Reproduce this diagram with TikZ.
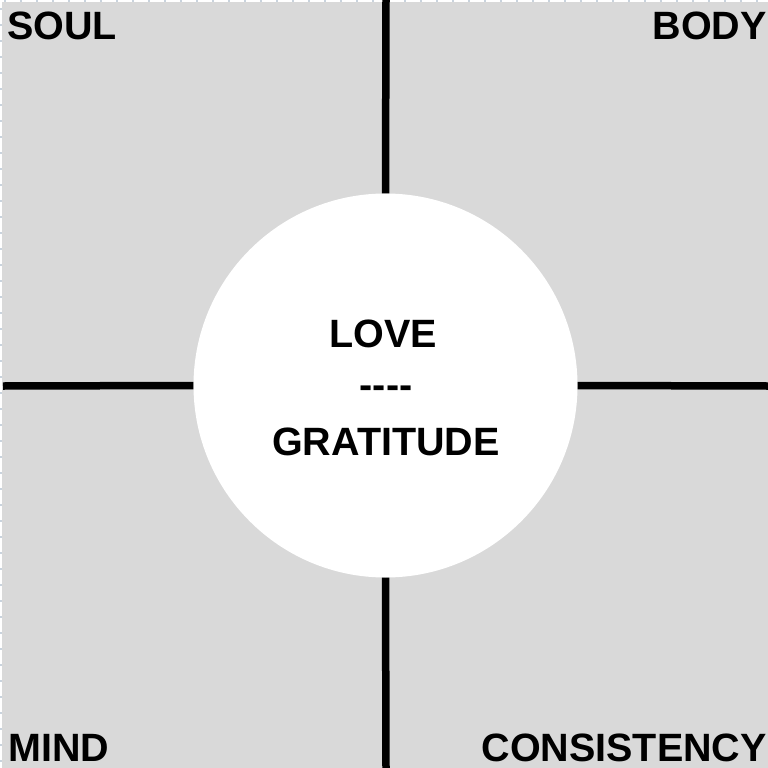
\documentclass[tikz,border=0pt]{standalone}
\usepackage{fontspec}
\setmainfont{Liberation Sans}
\definecolor{panel}{HTML}{D9D9D9}
\definecolor{edge}{HTML}{C9D3DD}
\begin{document}
\begin{tikzpicture}[x=1pt,y=-1pt,
  bar/.style={line width=7.5pt,black},
  lbl/.style={font=\fontsize{39.5}{47}\bfseries\selectfont,inner sep=0pt}]
\useasboundingbox (0,0) rectangle (768,768);
\fill[white] (0,0) rectangle (768,768);
\fill[panel] (1.5,2.5) rectangle (768,768);
\draw[edge,line width=2pt,dash pattern=on 2pt off 14pt] (4,1) -- (768,1);
\draw[edge,line width=1.5pt,dash pattern=on 2pt off 14pt] (0.75,8) -- (0.75,768);
\node[circle,fill=white,minimum size=384pt,inner sep=0pt] (c) at (385.5,385.5) {};
\coordinate (t) at (386,0);
\coordinate (b) at (386,768);
\coordinate (l) at (3,386);
\coordinate (r) at (768,386);
\draw[bar] (t) -- (c.north);
\draw[bar] (c.south) -- (b);
\draw[bar] (l) -- (c.west);
\draw[bar] (c.east) -- (r);
\node[lbl,anchor=base] (love) at (383,347) {LOVE};
\node[lbl,anchor=base] (dash) at (386,398) {-{}-{}-{}-};
\node[lbl,anchor=base] (grat) at (386,455) {GRATITUDE};
\node[lbl,anchor=base west] (soul) at (7,40) {SOUL};
\node[lbl,anchor=base east] (body) at (767,40) {BODY};
\node[lbl,anchor=base west] (mind) at (8,761) {MIND};
\node[lbl,anchor=base east] (cons) at (767,761) {CONSISTENCY};
\end{tikzpicture}
\end{document}
